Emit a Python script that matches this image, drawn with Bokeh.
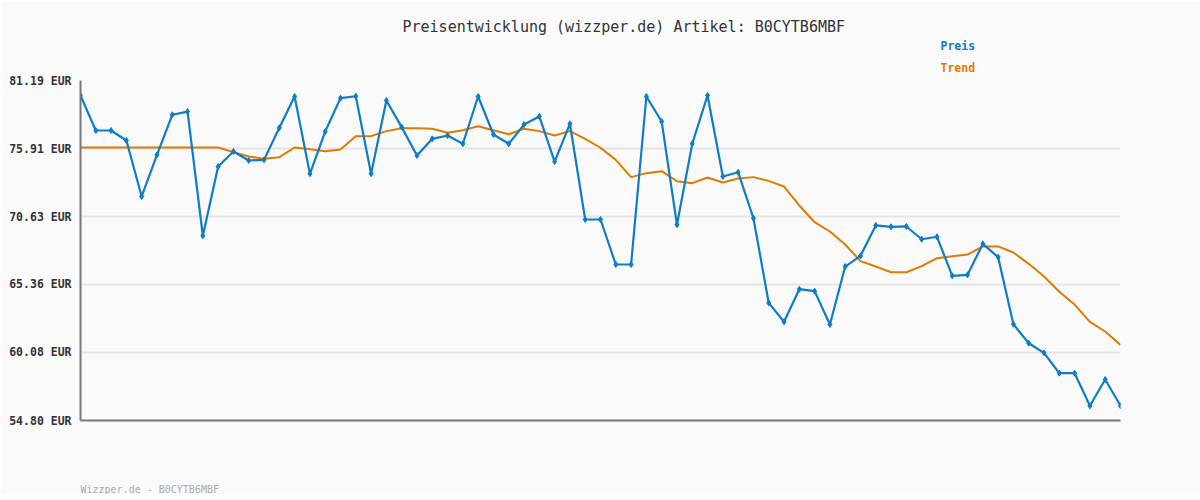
from bokeh.plotting import figure
from bokeh.models import Range1d, CustomJSTickFormatter, Title, ColumnDataSource
from bokeh.embed import file_html
from bokeh.resources import INLINE

title_text = "Preisentwicklung (wizzper.de) Artikel: B0CYTB6MBF"
footer_text = "Wizzper.de - B0CYTB6MBF"

preis = [80.03, 77.31, 77.31, 76.53, 72.19, 75.42, 78.53, 78.78, 69.14, 74.51,
         75.68, 74.98, 75.03, 77.52, 79.95, 73.95, 77.23, 79.82, 79.97, 73.95,
         79.64, 77.57, 75.37, 76.66, 76.92, 76.28, 79.95, 77.00, 76.28, 77.77,
         78.40, 74.90, 77.83, 70.40, 70.40, 66.91, 66.91, 79.95, 78.01, 69.99,
         76.28, 80.03, 73.74, 74.07, 70.50, 63.93, 62.46, 64.99, 64.84, 62.25,
         66.75, 67.58, 69.94, 69.83, 69.86, 68.87, 69.06, 66.03, 66.11, 68.51,
         67.48, 62.27, 60.80, 60.05, 58.47, 58.47, 55.94, 57.98, 55.94]

trend = [75.99, 75.99, 75.99, 75.99, 75.99, 75.99, 75.99, 75.99, 75.99, 75.99,
         75.63, 75.29, 75.11, 75.24, 75.99, 75.86, 75.70, 75.83, 76.87, 76.87,
         77.26, 77.49, 77.49, 77.44, 77.13, 77.33, 77.64, 77.33, 77.02, 77.44,
         77.26, 76.92, 77.26, 76.66, 75.97, 75.03, 73.69, 74.00, 74.15, 73.37,
         73.22, 73.66, 73.27, 73.58, 73.69, 73.40, 72.96, 71.49, 70.19, 69.47,
         68.46, 67.17, 66.75, 66.31, 66.31, 66.78, 67.40, 67.55, 67.68, 68.31,
         68.31, 67.84, 66.96, 65.98, 64.79, 63.80, 62.46, 61.71, 60.67]

y_ticks = [54.80, 60.08, 65.36, 70.63, 75.91, 81.19]
legend_labels = ["Preis", "Trend"]

blue = "#0f7cc8"
orange = "#e07b00"
bg = "#fafafa"
mono = "DejaVu Sans Mono"

x = list(range(len(preis)))
src = ColumnDataSource(dict(x=x, preis=preis, trend=trend))

p = figure(frame_width=1040, frame_height=340,
           min_border_left=80, min_border_right=80,
           min_border_top=80, min_border_bottom=0,
           x_range=Range1d(0, len(preis) - 1),
           y_range=Range1d(y_ticks[0], y_ticks[-1]),
           output_backend="svg", toolbar_location=None)

p.background_fill_color = bg
p.border_fill_color = bg
p.outline_line_color = None

p.ygrid.ticker = y_ticks
p.ygrid.grid_line_color = "#e4e4e4"
p.ygrid.grid_line_width = 2
p.xgrid.visible = False

p.yaxis.ticker = y_ticks
p.yaxis.formatter = CustomJSTickFormatter(code="return tick.toFixed(2) + ' EUR';")
p.yaxis.major_label_text_font = mono
p.yaxis.major_label_text_font_style = "bold"
p.yaxis.major_label_text_font_size = "11.5px"
p.yaxis.major_label_text_color = "#333333"
p.yaxis.major_label_standoff = 3
p.yaxis.major_tick_line_color = None
p.yaxis.minor_tick_line_color = None
p.yaxis.axis_line_color = "#777777"
p.yaxis.axis_line_width = 2

p.xaxis.ticker = []
p.xaxis.major_label_text_font_size = "0px"
p.xaxis.major_tick_line_color = None
p.xaxis.minor_tick_line_color = None
p.xaxis.axis_line_color = "#777777"
p.xaxis.axis_line_width = 2
p.xaxis.axis_label = " "
p.xaxis.axis_label_standoff = 47
p.xaxis.axis_label_text_font_size = "10px"

p.line("x", "trend", source=src, line_color=orange, line_width=2)
p.line("x", "preis", source=src, line_color=blue, line_width=2.2)
p.scatter("x", "preis", source=src, marker="diamond", size=6,
          fill_color=blue, line_color=blue)

p.add_layout(Title(text=legend_labels[1], text_font=mono, text_font_size="11.5px",
                   text_font_style="bold", text_color=orange, align="left",
                   offset=860, standoff=11), "above")
p.add_layout(Title(text=legend_labels[0], text_font=mono, text_font_size="11.5px",
                   text_font_style="bold", text_color=blue, align="left",
                   offset=860, standoff=2), "above")
p.add_layout(Title(text=title_text, text_font=mono, text_font_size="15px",
                   text_font_style="normal", text_color="#333333", align="left",
                   offset=322, standoff=0), "above")
p.add_layout(Title(text=footer_text, text_font=mono, text_font_size="10px",
                   text_font_style="normal", text_color="#aaaaaa", align="left",
                   standoff=0), "below")

open("out.html", "w").write(file_html(p, INLINE))
